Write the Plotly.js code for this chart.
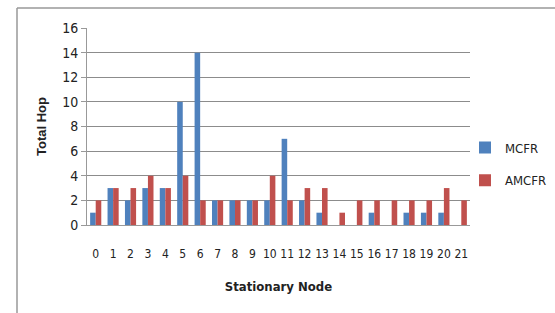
<!DOCTYPE html>
<html>
<head>
<meta charset="utf-8">
<script src="https://cdn.plot.ly/plotly-3.0.1.min.js"></script>
<style>
html,body{margin:0;padding:0;background:#fff;}
#chart{width:555px;height:313px;}
</style>
</head>
<body>
<div id="chart"></div>
<script>
var nodes = ["0","1","2","3","4","5","6","7","8","9","10","11","12","13","14","15","16","17","18","19","20","21"];
var mcfr  = [1,3,2,3,3,10,14,2,2,2,2,7,2,1,0,0,1,0,1,1,1,0];
var amcfr = [2,3,3,4,3,4,2,2,2,2,4,2,3,3,1,2,2,2,2,2,3,2];
var yTicks = [0,2,4,6,8,10,12,14,16];

var L = 87, R = 470, T = 28, B = 225, W = 555, H = 313;
function px(x){ return (x - L) / (R - L); }
function py(y){ return (B - y) / (B - T); }

var fontFam = '"DejaVu Sans Condensed", Roboto, sans-serif';

var traces = [
  {type:'bar', name:'MCFR', legendgroup:'a', x:nodes, y:mcfr, marker:{color:'#4F81BD'}},
  {type:'bar', name:'AMCFR', legendgroup:'b', x:nodes, y:amcfr, marker:{color:'#C0504D'}}
];

var layout = {
  width: W, height: H,
  margin: {l: L, r: W - R, t: T, b: H - B, pad: 0, autoexpand: false},
  paper_bgcolor: '#fff', plot_bgcolor: '#fff',
  barmode: 'group', bargap: 0.36, bargroupgap: 0,
  font: {family: fontFam, color: '#222', size: 12},
  showlegend: true,
  legend: {xref: 'container', yref: 'container', x: 465 / W, y: 1 - 164 / H,
           xanchor: 'left', yanchor: 'middle',
           traceorder: 'grouped',
           font: {family: fontFam, size: 13, color: '#222'},
           tracegroupgap: 13, itemwidth: 30, bgcolor: 'rgba(0,0,0,0)'},
  xaxis: {
    type: 'category', tickvals: nodes, ticktext: nodes, tickangle: 0,
    showgrid: false, showline: true, linecolor: '#999', linewidth: 1,
    ticks: '', tickfont: {family: fontFam, size: 12, color: '#222'},
    ticklabelstandoff: 18,
    title: {text: 'Stationary Node', font: {family: fontFam, size: 13, color: '#222', weight: 'bold'}, standoff: 21},
    zeroline: false
  },
  yaxis: {
    range: [0, 16], tickvals: yTicks, ticktext: yTicks.map(String),
    showgrid: true, gridcolor: '#8c8c8c', gridwidth: 1,
    showline: true, linecolor: '#999', linewidth: 1,
    ticks: 'outside', ticklen: 5, tickcolor: '#999',
    tickfont: {family: fontFam, size: 14, color: '#222'},
    title: {text: 'Total Hop', font: {family: '"Liberation Sans", Arial, sans-serif', size: 13, color: '#222', weight: 'bold'}, standoff: 12},
    zeroline: false
  },
  shapes: [
    {type:'line', xref:'paper', yref:'paper', x0:px(17), x1:px(17), y0:py(8), y1:py(320), line:{color:'#999', width:1.5}},
    {type:'line', xref:'paper', yref:'paper', x0:px(17), x1:px(560), y0:py(8), y1:py(8), line:{color:'#999', width:1.5}}
  ]
};

Plotly.newPlot('chart', traces, layout, {displayModeBar:false, staticPlot:true});
</script>
</body>
</html>
